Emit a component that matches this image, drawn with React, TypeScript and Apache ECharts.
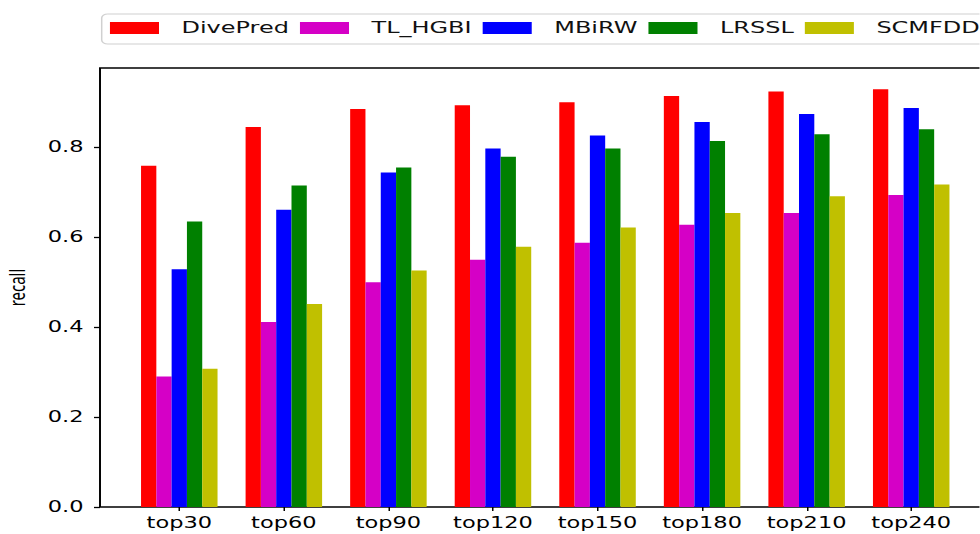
import React, { useEffect, useRef } from "react";
import * as echarts from "echarts";

const categories = ["top30", "top60", "top90", "top120", "top150", "top180", "top210", "top240"];
const seriesNames = ["DivePred", "TL_HGBI", "MBiRW", "LRSSL", "SCMFDD"];
const divePred = [0.758, 0.844, 0.884, 0.892, 0.899, 0.913, 0.923, 0.928];
const tlHgbi = [0.29, 0.411, 0.499, 0.549, 0.587, 0.627, 0.653, 0.693];
const mbirw = [0.528, 0.66, 0.743, 0.796, 0.825, 0.855, 0.873, 0.886];
const lrssl = [0.634, 0.714, 0.754, 0.778, 0.796, 0.813, 0.828, 0.839];
const scmfdd = [0.307, 0.451, 0.525, 0.578, 0.621, 0.653, 0.69, 0.716];
const seriesValues = [divePred, tlHgbi, mbirw, lrssl, scmfdd];
const colors = ["#ff0000", "#d500c6", "#0000ff", "#008000", "#c0c000"];

const SX = 1.5;
const W = 980 / SX;

export default function App() {
  const ref = useRef<HTMLDivElement>(null);
  useEffect(() => {
    if (!ref.current) return;
    const chart = echarts.init(ref.current, null, { renderer: "svg" });
    const font = "'DejaVu Sans', sans-serif";
    chart.setOption({
      animation: false,
      backgroundColor: "#ffffff",
      textStyle: { fontFamily: font },
      legend: {
        left: 67.8,
        top: 14,
        width: 900,
        padding: [6, 8, 8, 5.5],
        itemWidth: 32.7,
        itemHeight: 12,
        itemGap: 7.3,
        icon: "rect",
        backgroundColor: "#ffffff",
        borderColor: "#d0d0d0",
        borderWidth: 1,
        borderRadius: 4,
        textStyle: { fontSize: 16, color: "#111", fontFamily: font, padding: [0, 0, 0, 10], lineHeight: 16 },
        data: seriesNames,
      },
      grid: [
        { left: 84.67, right: 10.67, top: 68, bottom: 27, containLabel: false, outerBoundsMode: "none" },
        {
          left: 66.67,
          right: -7.33,
          top: 68,
          bottom: 27,
          show: true,
          borderColor: "#000",
          borderWidth: 1.3,
          backgroundColor: "transparent",
          containLabel: false,
          outerBoundsMode: "none",
        },
      ],
      xAxis: [
        {
          type: "category",
          gridIndex: 0,
          data: categories,
          axisLine: { show: false },
          axisTick: { show: true, alignWithLabel: true, length: 4, lineStyle: { color: "#000", width: 1 } },
          axisLabel: { fontSize: 15, color: "#000", margin: 8, fontFamily: font },
          splitLine: { show: false },
        },
        { type: "value", gridIndex: 1, min: 0, max: 1, show: false },
      ],
      yAxis: [
        { type: "value", gridIndex: 0, min: 0, max: 0.975, show: false },
        {
          type: "value",
          gridIndex: 1,
          min: 0,
          max: 0.975,
          interval: 0.2,
          name: "recall",
          nameLocation: "middle",
          nameGap: 48,
          nameTextStyle: { fontSize: 15, color: "#000", fontFamily: "'Noto Sans', sans-serif" },
          axisLine: { show: false },
          axisTick: { show: true, length: 4, lineStyle: { color: "#000", width: 1.3 } },
          axisLabel: {
            fontSize: 15,
            color: "#000",
            margin: 11,
            showMaxLabel: false,
            formatter: (v: number) => v.toFixed(1),
          },
          splitLine: { show: false },
        },
      ],
      series: seriesNames.map((name, i) => ({
        name,
        type: "bar",
        xAxisIndex: 0,
        yAxisIndex: 0,
        data: seriesValues[i],
        barWidth: 10.2,
        barGap: "0%",
        itemStyle: { color: colors[i] },
      })),
    });
    return () => chart.dispose();
  }, []);
  return (
    <div style={{ position: "fixed", left: 0, top: 0, width: 980, height: 534, overflow: "hidden", background: "#fff" }}>
      <div
        ref={ref}
        style={{ width: W, height: 534, transform: `scaleX(${SX})`, transformOrigin: "0 0" }}
      />
    </div>
  );
}
